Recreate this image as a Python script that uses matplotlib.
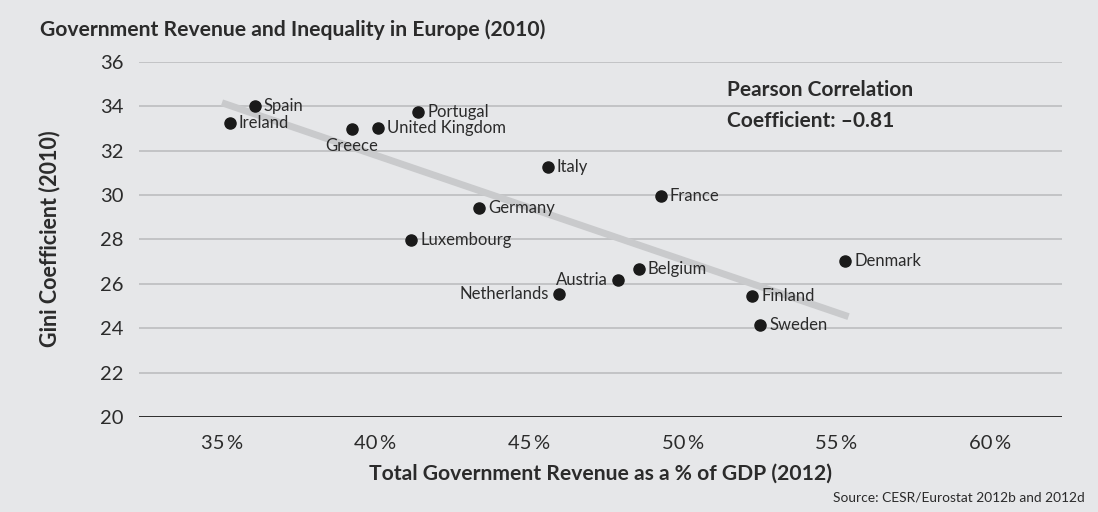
import matplotlib
matplotlib.use("Agg")
import matplotlib.pyplot as plt
from matplotlib.ticker import FixedLocator, FuncFormatter

plt.rcParams['font.family'] = ['Lato', 'DejaVu Sans']

# ---- data ----
countries = ["Spain", "Ireland", "Greece", "United Kingdom", "Portugal", "Italy",
             "Germany", "France", "Luxembourg", "Austria", "Belgium", "Netherlands",
             "Finland", "Sweden", "Denmark"]
revenue = [36.07, 35.26, 39.24, 40.08, 41.39, 45.60,
           43.38, 49.29, 41.16, 47.91, 48.57, 45.99,
           52.27, 52.52, 55.29]
gini = [34.0, 33.23, 32.97, 33.03, 33.72, 31.25,
        29.42, 29.96, 27.98, 26.18, 26.67, 25.55,
        25.46, 24.15, 27.03]
label_side = ["right", "right", "below", "right", "right", "right",
              "right", "right", "right", "left", "right", "left",
              "right", "right", "right"]
trend_x = [35.0, 55.4]
trend_y = [34.15, 24.52]
x_ticks = [35, 40, 45, 50, 55, 60]
y_ticks = [20, 22, 24, 26, 28, 30, 32, 34, 36]
pearson_r = -0.81

W, H = 1098, 512
bg = "#e6e7e9"
txt = "#2b2b2b"

fig = plt.figure(figsize=(W / 100, H / 100), dpi=100, facecolor=bg)
ax = fig.add_axes([139 / W, 1 - 417 / H, (1062 - 139) / W, (417 - 61.7) / H])
ax.set_facecolor(bg)
ax.set_xlim(32.3, 62.35)
ax.set_ylim(20, 36)

for s in ax.spines.values():
    s.set_visible(False)

ax.yaxis.set_major_locator(FixedLocator(y_ticks))
ax.xaxis.set_major_locator(FixedLocator(x_ticks))
ax.xaxis.set_major_formatter(FuncFormatter(lambda v, p: f"{v:.0f}\u2009%"))
ax.tick_params(axis="both", length=0, labelsize=14.5, colors=txt)
ax.tick_params(axis="y", pad=11)
ax.tick_params(axis="x", pad=13)

for yv in y_ticks:
    if yv == 20:
        ax.axhline(yv, color="#1e1e1e", lw=1.3, zorder=1)
    else:
        ax.axhline(yv, color="#bdbec0", lw=1.2, zorder=1)

ax.plot(trend_x, trend_y, color="#c9cacc", lw=5, solid_capstyle="butt", zorder=2)
ax.plot(revenue, gini, "o", color="#1a1a1a", ms=8, zorder=3)

for c, xv, yv, side in zip(countries, revenue, gini, label_side):
    if side == "right":
        ax.annotate(c, (xv, yv), xytext=(6.5, 0), textcoords="offset points",
                    ha="left", va="center", fontsize=12, color=txt)
    elif side == "left":
        ax.annotate(c, (xv, yv), xytext=(-8, 0), textcoords="offset points",
                    ha="right", va="center", fontsize=12, color=txt)
    else:
        ax.annotate(c, (xv, yv), xytext=(0, -12), textcoords="offset points",
                    ha="center", va="center", fontsize=12, color=txt)

fig.text(727 / W, 1 - 90 / H, "Pearson Correlation", fontsize=15, fontweight="bold",
         color=txt, ha="left", va="center")
fig.text(727 / W, 1 - 121 / H, f"Coefficient: \u2013{abs(pearson_r):.2f}", fontsize=15,
         fontweight="bold", color=txt, ha="left", va="center")

fig.text(40 / W, 1 - 30 / H, "Government Revenue and Inequality in Europe (2010)",
         fontsize=15.2, fontweight="bold", color=txt, ha="left", va="center")
fig.text(50 / W, 1 - 239 / H, "Gini Coefficient (2010)", fontsize=15.5, fontweight="bold",
         color=txt, ha="center", va="center", rotation=90)
fig.text(600.5 / W, 1 - 474 / H, "Total Government Revenue as a % of GDP (2012)",
         fontsize=15.2, fontweight="bold", color=txt, ha="center", va="center")
fig.text(1085 / W, 1 - 497 / H, "Source: CESR/Eurostat 2012b and 2012d",
         fontsize=9.9, color=txt, ha="right", va="center")

fig.savefig("out.png", dpi=100, facecolor=bg)
